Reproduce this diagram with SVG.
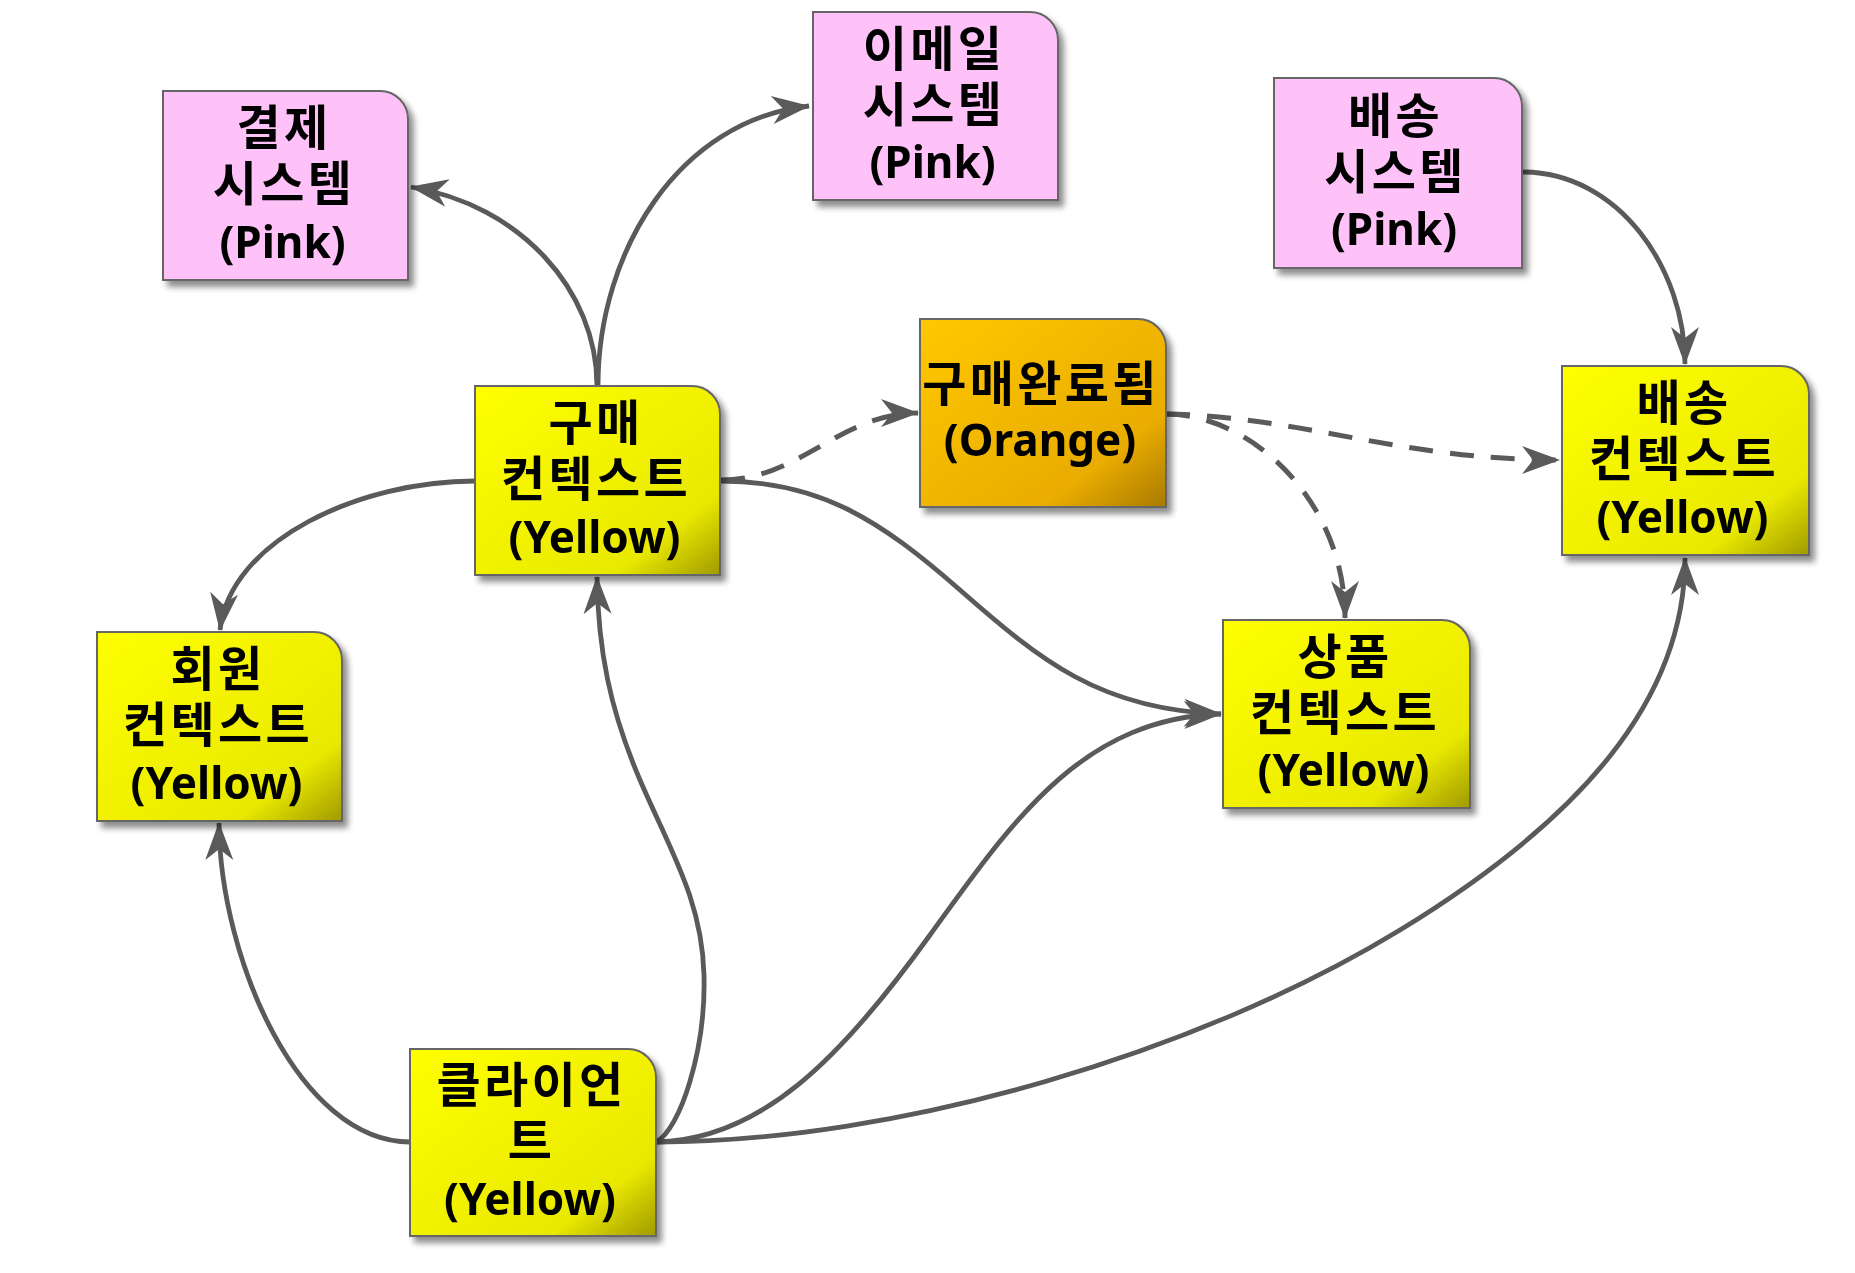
<svg xmlns="http://www.w3.org/2000/svg" width="1855" height="1273" viewBox="0 0 1855 1273">
<style>
.box{stroke:#666666;stroke-width:2}
.pink{fill:#FFC2F8}
.yellow{fill:url(#gy)}
.orange{fill:url(#go)}
.t{font-family:"Noto Sans","Noto Sans CJK KR",sans-serif;font-weight:bold;fill:#000;text-anchor:middle}
.ko{font-size:48px;letter-spacing:3.3px}
.la{font-size:44px}
.edge{fill:none;stroke:#5a5a5a;stroke-width:4.8}
.dash{stroke-width:5;stroke-dasharray:24 17}
</style>
<defs>
<linearGradient id="gy" x1="0" y1="0" x2="1" y2="1">
<stop offset="0" stop-color="#FFFF00"/>
<stop offset="0.78" stop-color="#E9E900"/>
<stop offset="1" stop-color="#A09A00"/>
</linearGradient>
<linearGradient id="go" x1="0" y1="0" x2="1" y2="1">
<stop offset="0" stop-color="#FFC800"/>
<stop offset="0.75" stop-color="#E9AC00"/>
<stop offset="1" stop-color="#A87A00"/>
</linearGradient>
<filter id="sh" x="-10%" y="-10%" width="130%" height="130%">
<feGaussianBlur in="SourceAlpha" stdDeviation="3"/>
<feOffset dx="5" dy="6" result="b"/>
<feComponentTransfer><feFuncA type="linear" slope="0.45"/></feComponentTransfer>
<feMerge><feMergeNode/><feMergeNode in="SourceGraphic"/></feMerge>
</filter>
<marker id="arr" viewBox="-40 -16 42 32" markerWidth="42" markerHeight="32" refX="0" refY="0" orient="auto" markerUnits="userSpaceOnUse" overflow="visible">
<path d="M1,0 L-37,-14 L-26,0 L-37,14 Z" fill="#5a5a5a"/>
</marker>
</defs>
<rect width="1855" height="1273" fill="#ffffff"/>

<g id="connectors">
<path class="edge" marker-end="url(#arr)" d="M597,386 C597,290 520,205 411,187"/>
<path class="edge" marker-end="url(#arr)" d="M598,386 C598,250 680,120 809,106"/>
<path class="edge" marker-end="url(#arr)" d="M475,481 C360,481 230,540 220,630"/>
<path class="edge" marker-end="url(#arr)" d="M721,481 C820,481 880,520 960,590 C1040,660 1100,710 1221,714"/>
<path class="edge dash" marker-end="url(#arr)" d="M721,480 C800,480 840,413 918,413"/>
<path class="edge dash" marker-end="url(#arr)" d="M1166,414 C1300,416 1400,460 1559,460"/>
<path class="edge dash" marker-end="url(#arr)" d="M1166,414 C1250,414 1345,500 1345,618"/>
<path class="edge" marker-end="url(#arr)" d="M1522,172 C1620,172 1685,270 1685,364"/>
<path class="edge" marker-end="url(#arr)" d="M410,1142 C300,1142 220,960 219,823"/>
<path class="edge" marker-end="url(#arr)" d="M656,1142 C680,1130 706,1050 704,975 C702,900 670,850 640,780 C610,710 598,650 597,577"/>
<path class="edge" marker-end="url(#arr)" d="M656,1142 C760,1140 840,1060 930,935 C1010,825 1080,718 1221,714"/>
<path class="edge" marker-end="url(#arr)" d="M656,1142 C900,1142 1200,1052 1400,930 C1580,820 1685,700 1685,558"/>
</g>

<g id="n_payment" filter="url(#sh)">
<path class="box pink" d="M163,91 H380 A28,28 0 0 1 408,119 V280 H163 Z"/>
<text class="t ko" x="284" y="145">결제</text>
<text class="t ko" x="284" y="201">시스템</text>
<text class="t la" x="282.5" y="257.5">(Pink)</text>
</g>

<g id="n_email" filter="url(#sh)">
<path class="box pink" d="M813,12 H1030 A28,28 0 0 1 1058,40 V200 H813 Z"/>
<text class="t ko" x="934" y="65.5">이메일</text>
<text class="t ko" x="934" y="121.5">시스템</text>
<text class="t la" x="932.5" y="178">(Pink)</text>
</g>

<g id="n_shipsys" filter="url(#sh)">
<path class="box pink" d="M1274,78 H1494 A28,28 0 0 1 1522,106 V268 H1274 Z"/>
<text class="t ko" x="1395.5" y="132.5">배송</text>
<text class="t ko" x="1395.5" y="188.5">시스템</text>
<text class="t la" x="1394" y="245">(Pink)</text>
</g>

<g id="n_purchase" filter="url(#sh)">
<path class="box yellow" d="M475,386 H692 A28,28 0 0 1 720,414 V575 H475 Z"/>
<text class="t ko" x="596" y="440">구매</text>
<text class="t ko" x="596" y="496">컨텍스트</text>
<text class="t la" x="594.5" y="552.5">(Yellow)</text>
</g>

<g id="n_done" filter="url(#sh)">
<path class="box orange" d="M920,319 H1138 A28,28 0 0 1 1166,347 V507 H920 Z"/>
<text class="t ko" x="1041" y="400.5">구매완료됨</text>
<text class="t la" x="1040" y="456">(Orange)</text>
</g>

<g id="n_shipctx" filter="url(#sh)">
<path class="box yellow" d="M1562,366 H1781 A28,28 0 0 1 1809,394 V555 H1562 Z"/>
<text class="t ko" x="1684" y="420">배송</text>
<text class="t ko" x="1684" y="476">컨텍스트</text>
<text class="t la" x="1682.5" y="532.5">(Yellow)</text>
</g>

<g id="n_member" filter="url(#sh)">
<path class="box yellow" d="M97,632 H314 A28,28 0 0 1 342,660 V821 H97 Z"/>
<text class="t ko" x="218" y="686">회원</text>
<text class="t ko" x="218" y="742">컨텍스트</text>
<text class="t la" x="216.5" y="798.5">(Yellow)</text>
</g>

<g id="n_product" filter="url(#sh)">
<path class="box yellow" d="M1223,620 H1442 A28,28 0 0 1 1470,648 V808 H1223 Z"/>
<text class="t ko" x="1345" y="673.5">상품</text>
<text class="t ko" x="1345" y="729.5">컨텍스트</text>
<text class="t la" x="1343.5" y="786">(Yellow)</text>
</g>

<g id="n_client" filter="url(#sh)">
<path class="box yellow" d="M410,1049 H628 A28,28 0 0 1 656,1077 V1236 H410 Z"/>
<text class="t ko" x="531.5" y="1102">클라이언</text>
<text class="t ko" x="531.5" y="1158">트</text>
<text class="t la" x="530" y="1214.5">(Yellow)</text>
</g>
</svg>
